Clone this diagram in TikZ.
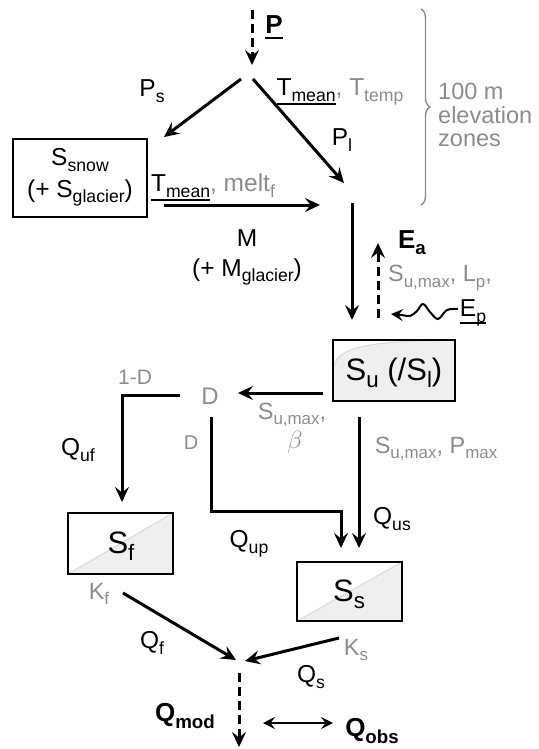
\documentclass[tikz,border=0pt]{standalone}
\usepackage{graphicx}
\usepackage{fontspec}
\setmainfont{Liberation Sans}
\usetikzlibrary{arrows.meta,decorations.pathreplacing}
\definecolor{txtgray}{RGB}{140,140,140}
\definecolor{boxfill}{RGB}{239,239,241}
\definecolor{diagline}{RGB}{214,214,216}
\newcommand\sbs[1]{\raisebox{-0.24em}{\scalebox{0.72}{#1}}}
\newcommand\ulx[2]{\leavevmode\setbox0\hbox{#2}\rlap{\usebox0}\rule[-#1]{\wd0}{1.9pt}}
\begin{document}
\begin{tikzpicture}[x=1pt,y=-1pt,
  arr/.style={line width=3pt, -{Stealth[length=15pt,width=14pt,inset=5.5pt]}},
  dsh/.style={arr, dash pattern=on 9pt off 5pt},
  lab/.style={inner sep=0pt, font=\fontsize{24.5}{28}\selectfont},
  glab/.style={inner sep=0pt, text=txtgray, font=\fontsize{23.5}{27}\selectfont},
  blab/.style={inner sep=0pt, font=\fontsize{26}{30}\selectfont\bfseries},
  biglab/.style={inner sep=0pt, font=\fontsize{31}{35}\selectfont},
  store/.style={draw, line width=1.4pt, inner sep=0pt}
]
\useasboundingbox (0,0) rectangle (538,749);

% ---------- precipitation ----------
\coordinate (ptop) at (252,10);
\coordinate (psplit) at (252,65);
\draw[dsh] (ptop) -- (psplit);
\node[blab] (P) at (274,27) {\ulx{5.5pt}{P}};
\coordinate (ps0) at (241,79); \coordinate (ps1) at (164,137);
\coordinate (pl0) at (253,79); \coordinate (pl1) at (344,183);
\draw[arr] (ps0) -- (ps1);
\draw[arr] (pl0) -- (pl1);
\node[lab] (Ps) at (152,91) {P\sbs{s}};
\node[lab] (Pl) at (342,140) {P\sbs{l}};
\node[lab] (tm1) at (340,92) {\ulx{9.5pt}{T\sbs{mean}}\textcolor{txtgray}{, T\sbs{temp}}};

% ---------- brace ----------
\draw[txtgray, line width=1.4pt, decorate, decoration={brace, amplitude=9pt}] (421,9) -- (421,205);
\node[glab, align=left, anchor=west, font=\fontsize{23.5}{23.5}\selectfont] (elev) at (438,115) {100 m\\elevation\\zones};

% ---------- snow ----------
\node[store, minimum width=134pt, minimum height=78pt] (snow) at (80,178) {};
\node[lab] (snowa) at (80,160) {S\sbs{snow}};
\node[lab] (snowb) at (80,193) {(+ S\sbs{glacier})};
\coordinate (m0) at (164,205); \coordinate (m1) at (320,205);
\draw[arr] (m0) -- (m1);
\node[lab] (tm2) at (213,187) {\ulx{9.5pt}{T\sbs{mean}}\textcolor{txtgray}{, melt\sbs{f}}};
\node[lab] (M) at (247,238) {M};
\node[lab] (Mg) at (247,272) {(+ M\sbs{glacier})};

% ---------- infiltration / evaporation ----------
\coordinate (in0) at (352,203); \coordinate (in1) at (352,320);
\draw[arr] (in0) -- (in1);
\coordinate (ea0) at (378,318); \coordinate (ea1) at (378,243);
\draw[dsh] (ea0) -- (ea1);
\node[blab] (Ea) at (412,243) {E\sbs{a}};
\node[glab] (eapar) at (440,278) {S\sbs{u,max}, L\sbs{p},};
\node[lab] (Ep) at (473,313) {\ulx{7pt}{E\sbs{p}}};
\draw[line width=2pt, -{Stealth[length=12pt,width=12pt,inset=4.5pt]}]
  plot[smooth, tension=0.6] coordinates {(458,309) (447,310) (438,319) (430,312) (423,304) (417,311) (410,316) (402,315) (391,314)};

% ---------- unsaturated zone ----------
\fill[boxfill] (333,340) rectangle (455,401);
\fill[white] (333,340) -- (333,368) .. controls (337,352) and (352,343) .. (420,341) -- (455,340) -- cycle;
\draw[diagline, line width=0.9pt] (333,368) .. controls (337,352) and (352,343) .. (420,341) -- (455,340);
\node[store, minimum width=122pt, minimum height=61pt] (su) at (394,370.5) {};
\node[biglab] (sulab) at (394,373) {S\sbs{u} (/S\sbs{l})};

\coordinate (d0) at (323,393); \coordinate (d1) at (238,393);
\draw[arr] (d0) -- (d1);
\node[glab, font=\fontsize{24}{28}\selectfont] (D) at (210,396) {D};
\node[glab] (dpar1) at (292,415) {S\sbs{u,max},};
\node[glab] (dpar2) at (295,442) {$\beta$};

\coordinate (f0) at (180,395); \coordinate (fc) at (122,395); \coordinate (f1) at (122,502);
\draw[arr] (f0) -- (fc) -- (f1);
\node[glab, font=\fontsize{21}{25}\selectfont] (omd) at (135,377) {1-D};
\node[lab] (Quf) at (78,450) {Q\sbs{uf}};

\coordinate (p0) at (211,417); \coordinate (pc1) at (211,511); \coordinate (pc2) at (341,511); \coordinate (p1) at (341,548);
\draw[arr] (p0) -- (pc1) -- (pc2) -- (p1);
\node[glab, font=\fontsize{20}{24}\selectfont] (dsm) at (191,443) {D};
\node[lab] (Qup) at (249,544) {Q\sbs{up}};

\coordinate (s0) at (359,417); \coordinate (s1) at (359,548);
\draw[arr] (s0) -- (s1);
\node[glab] (spar) at (436,449) {S\sbs{u,max}, P\sbs{max}};
\node[lab] (Qus) at (392,519) {Q\sbs{us}};

% ---------- fast reservoir ----------
\fill[boxfill] (68,574) -- (173,513) -- (173,574) -- cycle;
\draw[diagline, line width=0.9pt] (68,574) -- (173,513);
\node[store, minimum width=105pt, minimum height=61pt] (sf) at (120.5,543.5) {};
\node[biglab] (sflab) at (121,546) {S\sbs{f}};

% ---------- slow reservoir ----------
\fill[boxfill] (297,621) -- (402,562) -- (402,621) -- cycle;
\draw[diagline, line width=0.9pt] (297,621) -- (402,562);
\node[store, minimum width=105pt, minimum height=59pt] (ss) at (349.5,591.5) {};
\node[biglab] (sslab) at (349,594) {S\sbs{s}};

% ---------- outflow ----------
\node[glab] (Kf) at (99,594) {K\sbs{f}};
\coordinate (qf0) at (123,593); \coordinate (qf1) at (236,660);
\draw[arr] (qf0) -- (qf1);
\node[lab] (Qf) at (152,643) {Q\sbs{f}};
\node[glab] (Ks) at (356,650) {K\sbs{s}};
\coordinate (qs0) at (339,638); \coordinate (qs1) at (245,661);
\draw[arr] (qs0) -- (qs1);
\node[lab] (Qs) at (311,677) {Q\sbs{s}};

\coordinate (qm0) at (239,673); \coordinate (qm1) at (239,747);
\draw[dsh] (qm0) -- (qm1);
\node[blab] (Qmod) at (185,716) {Q\sbs{mod}};
\node[blab] (Qobs) at (372,731) {Q\sbs{obs}};
\coordinate (c0) at (263,723); \coordinate (c1) at (333,723);
\draw[line width=1.9pt, {Stealth[length=12pt,width=12pt,inset=4.5pt]}-{Stealth[length=12pt,width=12pt,inset=4.5pt]}] (c0) -- (c1);
\end{tikzpicture}
\end{document}
